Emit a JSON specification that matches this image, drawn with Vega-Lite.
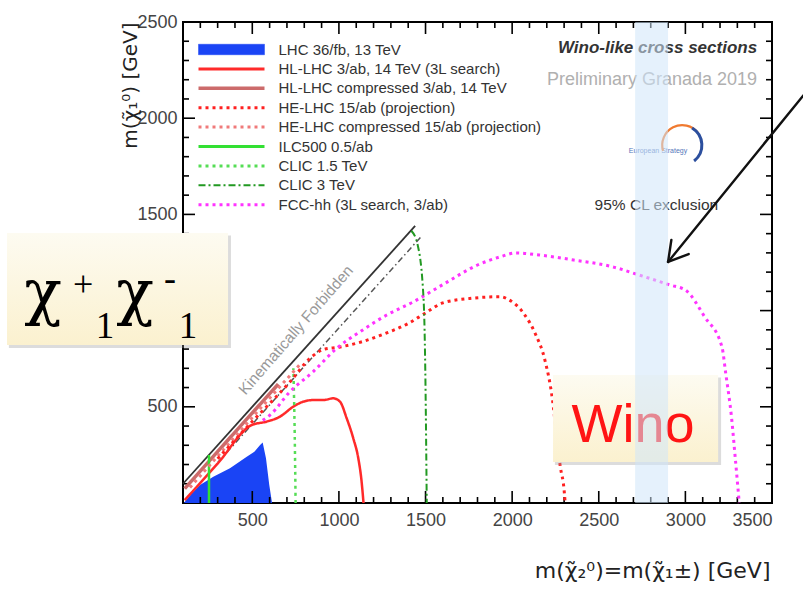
{
  "$schema": "https://vega.github.io/schema/vega-lite/v6.json",
  "width": 589,
  "height": 481,
  "autosize": {"type": "none"},
  "padding": {"left": 183, "top": 22, "right": 31, "bottom": 89},
  "background": "white",
  "config": {
    "view": {"stroke": "#000", "strokeWidth": 2},
    "font": "Liberation Sans",
    "axis": {
      "grid": false,
      "domain": false,
      "ticks": false,
      "labelFont": "Liberation Sans",
      "labelFontSize": 18,
      "labelColor": "#444",
      "labelOverlap": false,
      "titleFont": "DejaVu Sans",
      "titleFontWeight": "normal",
      "titleColor": "#222",
      "titleFontSize": 19
    }
  },
  "datasets": {
    "lhc36": [
      {"x": 105, "y": 0}, {"x": 150, "y": 50}, {"x": 198, "y": 94}, {"x": 275, "y": 137},
      {"x": 371, "y": 180}, {"x": 468, "y": 241}, {"x": 512, "y": 267}, {"x": 545, "y": 301},
      {"x": 560, "y": 315}, {"x": 579, "y": 232}, {"x": 598, "y": 94}, {"x": 614, "y": 0}
    ],
    "curves": [
      {"s": "HL-LHC 3/ab, 14 TeV (3L search)", "i": 0, "x": 110, "y": 15},
      {"s": "HL-LHC 3/ab, 14 TeV (3L search)", "i": 1, "x": 300, "y": 205},
      {"s": "HL-LHC 3/ab, 14 TeV (3L search)", "i": 2, "x": 496, "y": 405},
      {"s": "HL-LHC 3/ab, 14 TeV (3L search)", "i": 3, "x": 583, "y": 423},
      {"s": "HL-LHC 3/ab, 14 TeV (3L search)", "i": 4, "x": 660, "y": 449},
      {"s": "HL-LHC 3/ab, 14 TeV (3L search)", "i": 5, "x": 737, "y": 501},
      {"s": "HL-LHC 3/ab, 14 TeV (3L search)", "i": 6, "x": 795, "y": 527},
      {"s": "HL-LHC 3/ab, 14 TeV (3L search)", "i": 7, "x": 852, "y": 535},
      {"s": "HL-LHC 3/ab, 14 TeV (3L search)", "i": 8, "x": 910, "y": 535},
      {"s": "HL-LHC 3/ab, 14 TeV (3L search)", "i": 9, "x": 968, "y": 544},
      {"s": "HL-LHC 3/ab, 14 TeV (3L search)", "i": 10, "x": 1006, "y": 527},
      {"s": "HL-LHC 3/ab, 14 TeV (3L search)", "i": 11, "x": 1045, "y": 440},
      {"s": "HL-LHC 3/ab, 14 TeV (3L search)", "i": 12, "x": 1083, "y": 336},
      {"s": "HL-LHC 3/ab, 14 TeV (3L search)", "i": 13, "x": 1112, "y": 232},
      {"s": "HL-LHC 3/ab, 14 TeV (3L search)", "i": 14, "x": 1131, "y": 111},
      {"s": "HL-LHC 3/ab, 14 TeV (3L search)", "i": 15, "x": 1142, "y": 0},

      {"s": "HL-LHC compressed 3/ab, 14 TeV", "i": 0, "x": 110, "y": 75},
      {"s": "HL-LHC compressed 3/ab, 14 TeV", "i": 1, "x": 400, "y": 368},
      {"s": "HL-LHC compressed 3/ab, 14 TeV", "i": 2, "x": 650, "y": 618},

      {"s": "HE-LHC compressed 15/ab (projection)", "i": 0, "x": 140, "y": 80},
      {"s": "HE-LHC compressed 15/ab (projection)", "i": 1, "x": 500, "y": 445},
      {"s": "HE-LHC compressed 15/ab (projection)", "i": 2, "x": 780, "y": 725},

      {"s": "HE-LHC 15/ab (projection)", "i": 0, "x": 300, "y": 230},
      {"s": "HE-LHC 15/ab (projection)", "i": 1, "x": 496, "y": 420},
      {"s": "HE-LHC 15/ab (projection)", "i": 2, "x": 718, "y": 630},
      {"s": "HE-LHC 15/ab (projection)", "i": 3, "x": 833, "y": 752},
      {"s": "HE-LHC 15/ab (projection)", "i": 4, "x": 910, "y": 798},
      {"s": "HE-LHC 15/ab (projection)", "i": 5, "x": 1000, "y": 810},
      {"s": "HE-LHC 15/ab (projection)", "i": 6, "x": 1133, "y": 838},
      {"s": "HE-LHC 15/ab (projection)", "i": 7, "x": 1267, "y": 881},
      {"s": "HE-LHC 15/ab (projection)", "i": 8, "x": 1400, "y": 933},
      {"s": "HE-LHC 15/ab (projection)", "i": 9, "x": 1495, "y": 985},
      {"s": "HE-LHC 15/ab (projection)", "i": 10, "x": 1600, "y": 1040},
      {"s": "HE-LHC 15/ab (projection)", "i": 11, "x": 1755, "y": 1063},
      {"s": "HE-LHC 15/ab (projection)", "i": 12, "x": 1933, "y": 1072},
      {"s": "HE-LHC 15/ab (projection)", "i": 13, "x": 1978, "y": 1058},
      {"s": "HE-LHC 15/ab (projection)", "i": 14, "x": 2067, "y": 985},
      {"s": "HE-LHC 15/ab (projection)", "i": 15, "x": 2133, "y": 881},
      {"s": "HE-LHC 15/ab (projection)", "i": 16, "x": 2189, "y": 743},
      {"s": "HE-LHC 15/ab (projection)", "i": 17, "x": 2233, "y": 535},
      {"s": "HE-LHC 15/ab (projection)", "i": 18, "x": 2255, "y": 361},
      {"s": "HE-LHC 15/ab (projection)", "i": 19, "x": 2278, "y": 188},
      {"s": "HE-LHC 15/ab (projection)", "i": 20, "x": 2300, "y": 67},
      {"s": "HE-LHC 15/ab (projection)", "i": 21, "x": 2306, "y": 0},

      {"s": "ILC500 0.5/ab", "i": 0, "x": 250, "y": 0},
      {"s": "ILC500 0.5/ab", "i": 1, "x": 250, "y": 250},

      {"s": "CLIC 1.5 TeV", "i": 0, "x": 750, "y": 0},
      {"s": "CLIC 1.5 TeV", "i": 1, "x": 745, "y": 350},
      {"s": "CLIC 1.5 TeV", "i": 2, "x": 737, "y": 700},

      {"s": "CLIC 3 TeV", "i": 0, "x": 1418, "y": 1415},
      {"s": "CLIC 3 TeV", "i": 1, "x": 1455, "y": 1340},
      {"s": "CLIC 3 TeV", "i": 2, "x": 1489, "y": 1055},
      {"s": "CLIC 3 TeV", "i": 3, "x": 1500, "y": 600},
      {"s": "CLIC 3 TeV", "i": 4, "x": 1507, "y": 0},

      {"s": "FCC-hh (3L search, 3/ab)", "i": 0, "x": 560, "y": 430},
      {"s": "FCC-hh (3L search, 3/ab)", "i": 1, "x": 602, "y": 457},
      {"s": "FCC-hh (3L search, 3/ab)", "i": 2, "x": 718, "y": 579},
      {"s": "FCC-hh (3L search, 3/ab)", "i": 3, "x": 852, "y": 683},
      {"s": "FCC-hh (3L search, 3/ab)", "i": 4, "x": 987, "y": 804},
      {"s": "FCC-hh (3L search, 3/ab)", "i": 5, "x": 1122, "y": 890},
      {"s": "FCC-hh (3L search, 3/ab)", "i": 6, "x": 1276, "y": 977},
      {"s": "FCC-hh (3L search, 3/ab)", "i": 7, "x": 1430, "y": 1046},
      {"s": "FCC-hh (3L search, 3/ab)", "i": 8, "x": 1600, "y": 1135},
      {"s": "FCC-hh (3L search, 3/ab)", "i": 9, "x": 1800, "y": 1237},
      {"s": "FCC-hh (3L search, 3/ab)", "i": 10, "x": 1933, "y": 1280},
      {"s": "FCC-hh (3L search, 3/ab)", "i": 11, "x": 2022, "y": 1300},
      {"s": "FCC-hh (3L search, 3/ab)", "i": 12, "x": 2155, "y": 1289},
      {"s": "FCC-hh (3L search, 3/ab)", "i": 13, "x": 2355, "y": 1263},
      {"s": "FCC-hh (3L search, 3/ab)", "i": 14, "x": 2578, "y": 1228},
      {"s": "FCC-hh (3L search, 3/ab)", "i": 15, "x": 2733, "y": 1185},
      {"s": "FCC-hh (3L search, 3/ab)", "i": 16, "x": 2911, "y": 1133},
      {"s": "FCC-hh (3L search, 3/ab)", "i": 17, "x": 3000, "y": 1107},
      {"s": "FCC-hh (3L search, 3/ab)", "i": 18, "x": 3111, "y": 968},
      {"s": "FCC-hh (3L search, 3/ab)", "i": 19, "x": 3211, "y": 812},
      {"s": "FCC-hh (3L search, 3/ab)", "i": 20, "x": 3233, "y": 673},
      {"s": "FCC-hh (3L search, 3/ab)", "i": 21, "x": 3266, "y": 448},
      {"s": "FCC-hh (3L search, 3/ab)", "i": 22, "x": 3289, "y": 223},
      {"s": "FCC-hh (3L search, 3/ab)", "i": 23, "x": 3311, "y": 0}
    ],
    "kinematic": [{"x": 100, "y": 100}, {"x": 1440, "y": 1440}],
    "offdiag": [{"x": 300, "y": 210}, {"x": 1480, "y": 1390}],
    "xMajor": [{"v": 500}, {"v": 1000}, {"v": 1500}, {"v": 2000}, {"v": 2500}, {"v": 3000}],
    "xMinor": [
      {"v": 200}, {"v": 300}, {"v": 400}, {"v": 600}, {"v": 700}, {"v": 800}, {"v": 900},
      {"v": 1100}, {"v": 1200}, {"v": 1300}, {"v": 1400}, {"v": 1600}, {"v": 1700}, {"v": 1800}, {"v": 1900},
      {"v": 2100}, {"v": 2200}, {"v": 2300}, {"v": 2400}, {"v": 2600}, {"v": 2700}, {"v": 2800}, {"v": 2900},
      {"v": 3100}, {"v": 3200}, {"v": 3300}, {"v": 3400}
    ],
    "yMajor": [{"v": 500}, {"v": 1000}, {"v": 1500}, {"v": 2000}],
    "yMinor": [
      {"v": 100}, {"v": 200}, {"v": 300}, {"v": 400}, {"v": 600}, {"v": 700}, {"v": 800}, {"v": 900},
      {"v": 1100}, {"v": 1200}, {"v": 1300}, {"v": 1400}, {"v": 1600}, {"v": 1700}, {"v": 1800}, {"v": 1900},
      {"v": 2100}, {"v": 2200}, {"v": 2300}, {"v": 2400}
    ],
    "boxes": [
      {"name": "pair", "x": -916, "x2": 360, "y": 821, "y2": 1403},
      {"name": "wino", "x": 2236, "x2": 3189, "y": 213, "y2": 665}
    ],
    "shadows": [
      {"name": "pair", "x": -905, "x2": 377, "y": 805, "y2": 1390},
      {"name": "wino", "x": 2247, "x2": 3206, "y": 197, "y2": 652}
    ],
    "band": [{"x": 2710, "x2": 2900, "y": 0, "y2": 2500}],
    "arrow": [
      {"x": 3720, "y": 2162, "x2": 2900, "y2": 1253},
      {"x": 2900, "y": 1253, "x2": 3019, "y2": 1294},
      {"x": 2900, "y": 1253, "x2": 2919, "y2": 1367}
    ]
  },
  "layer": [
    {
      "data": {"name": "lhc36"},
      "mark": {"type": "area", "color": "#1a44f5", "interpolate": "linear"},
      "encoding": {
        "x": {
          "field": "x", "type": "quantitative",
          "scale": {"domain": [100, 3500], "nice": false, "zero": false},
          "axis": {
            "orient": "bottom",
            "values": [500, 1000, 1500, 2000, 2500, 3000, 3500],
            "format": "d",
            "labelPadding": 8,
            "title": "m(χ̃₂⁰)=m(χ̃₁±) [GeV]",
            "titleFontSize": 22,
            "titleAnchor": "end",
            "titleAlign": "right",
            "titleBaseline": "middle",
            "titleX": 587,
            "titleY": 67
          }
        },
        "y": {
          "field": "y", "type": "quantitative",
          "scale": {"domain": [0, 2500], "nice": false, "zero": false},
          "axis": {
            "orient": "left",
            "values": [0, 500, 1000, 1500, 2000, 2500],
            "format": "d",
            "labelExpr": "datum.value === 0 || datum.value === 1000 ? '' : datum.label",
            "labelPadding": 6,
            "title": "m(χ̃₁⁰) [GeV]",
            "titleFontSize": 20,
            "titleAnchor": "end",
            "titleAngle": 270,
            "titleAlign": "right",
            "titleBaseline": "middle",
            "titleX": -53,
            "titleY": 0
          }
        }
      }
    },
    {
      "data": {"name": "xMajor"},
      "mark": {"type": "tick", "orient": "vertical", "size": 12, "thickness": 1.6, "color": "#000", "opacity": 1, "yOffset": -6},
      "encoding": {"x": {"field": "v", "type": "quantitative", "axis": null}, "y": {"datum": 0, "type": "quantitative", "axis": null}}
    },
    {
      "data": {"name": "xMajor"},
      "mark": {"type": "tick", "orient": "vertical", "size": 12, "thickness": 1.6, "color": "#000", "opacity": 1, "yOffset": 6},
      "encoding": {"x": {"field": "v", "type": "quantitative", "axis": null}, "y": {"datum": 2500, "type": "quantitative", "axis": null}}
    },
    {
      "data": {"name": "xMinor"},
      "mark": {"type": "tick", "orient": "vertical", "size": 6, "thickness": 1.6, "color": "#000", "opacity": 1, "yOffset": -3},
      "encoding": {"x": {"field": "v", "type": "quantitative", "axis": null}, "y": {"datum": 0, "type": "quantitative", "axis": null}}
    },
    {
      "data": {"name": "xMinor"},
      "mark": {"type": "tick", "orient": "vertical", "size": 6, "thickness": 1.6, "color": "#000", "opacity": 1, "yOffset": 3},
      "encoding": {"x": {"field": "v", "type": "quantitative", "axis": null}, "y": {"datum": 2500, "type": "quantitative", "axis": null}}
    },
    {
      "data": {"name": "yMajor"},
      "mark": {"type": "tick", "orient": "horizontal", "size": 12, "thickness": 1.6, "color": "#000", "opacity": 1, "xOffset": 6},
      "encoding": {"y": {"field": "v", "type": "quantitative", "axis": null}, "x": {"datum": 100, "type": "quantitative", "axis": null}}
    },
    {
      "data": {"name": "yMajor"},
      "mark": {"type": "tick", "orient": "horizontal", "size": 12, "thickness": 1.6, "color": "#000", "opacity": 1, "xOffset": -6},
      "encoding": {"y": {"field": "v", "type": "quantitative", "axis": null}, "x": {"datum": 3500, "type": "quantitative", "axis": null}}
    },
    {
      "data": {"name": "yMinor"},
      "mark": {"type": "tick", "orient": "horizontal", "size": 6, "thickness": 1.6, "color": "#000", "opacity": 1, "xOffset": 3},
      "encoding": {"y": {"field": "v", "type": "quantitative", "axis": null}, "x": {"datum": 100, "type": "quantitative", "axis": null}}
    },
    {
      "data": {"name": "yMinor"},
      "mark": {"type": "tick", "orient": "horizontal", "size": 6, "thickness": 1.6, "color": "#000", "opacity": 1, "xOffset": -3},
      "encoding": {"y": {"field": "v", "type": "quantitative", "axis": null}, "x": {"datum": 3500, "type": "quantitative", "axis": null}}
    },
    {
      "data": {"name": "offdiag"},
      "mark": {"type": "line", "color": "#555", "strokeWidth": 1.5, "strokeDash": [6, 3, 1.5, 3]},
      "encoding": {
        "x": {"field": "x", "type": "quantitative", "axis": null},
        "y": {"field": "y", "type": "quantitative", "axis": null}
      }
    },
    {
      "data": {"name": "kinematic"},
      "mark": {"type": "line", "color": "#333", "strokeWidth": 1.8},
      "encoding": {
        "x": {"field": "x", "type": "quantitative", "axis": null},
        "y": {"field": "y", "type": "quantitative", "axis": null}
      }
    },
    {
      "data": {"name": "curves"},
      "transform": [{"filter": {"field": "s", "oneOf": ["HL-LHC compressed 3/ab, 14 TeV"]}}],
      "mark": {"type": "line", "interpolate": "monotone", "strokeWidth": 3.5},
      "encoding": {
        "x": {"field": "x", "type": "quantitative", "axis": null},
        "y": {"field": "y", "type": "quantitative", "axis": null},
        "order": {"field": "i", "type": "quantitative"},
        "color": {
          "field": "s", "type": "nominal",
          "scale": {
            "domain": ["LHC 36/fb, 13 TeV", "HL-LHC 3/ab, 14 TeV (3L search)", "HL-LHC compressed 3/ab, 14 TeV", "HE-LHC 15/ab (projection)", "HE-LHC compressed 15/ab (projection)", "ILC500 0.5/ab", "CLIC 1.5 TeV", "CLIC 3 TeV", "FCC-hh (3L search, 3/ab)"],
            "range": ["#1a44f5", "#ff2a2a", "#cc6b6b", "#ff2020", "#f07a7a", "#33e033", "#55dd55", "#229922", "#ff33ff"]
          },
          "legend": {
            "orient": "none",
            "legendX": 41,
            "legendY": 20,
            "title": null,
            "symbolType": "M-6,0H6",
            "symbolSize": 121,
            "symbolStrokeWidth": 3,
            "labelFont": "Liberation Sans",
            "labelFontSize": 15,
            "labelColor": "#333",
            "labelOffset": 39.5,
            "labelLimit": 400,
            "rowPadding": 3.4,
            "encode": {
              "symbols": {
                "update": {
                  "shape": {"signal": "datum.value === 'LHC 36/fb, 13 TeV' ? 'M-6,-0.95H6V0.95H-6Z' : 'M-6,0H6'"},
                  "fill": {"signal": "datum.value === 'LHC 36/fb, 13 TeV' ? '#1a44f5' : 'transparent'"},
                  "strokeWidth": {"signal": "datum.value === 'LHC 36/fb, 13 TeV' ? 0.5 : datum.value === 'HL-LHC compressed 3/ab, 14 TeV' ? 3.5 : datum.value === 'CLIC 3 TeV' ? 2 : 3"}
                }
              }
            }
          }
        },
        "strokeDash": {
          "field": "s", "type": "nominal",
          "scale": {
            "domain": ["LHC 36/fb, 13 TeV", "HL-LHC 3/ab, 14 TeV (3L search)", "HL-LHC compressed 3/ab, 14 TeV", "HE-LHC 15/ab (projection)", "HE-LHC compressed 15/ab (projection)", "ILC500 0.5/ab", "CLIC 1.5 TeV", "CLIC 3 TeV", "FCC-hh (3L search, 3/ab)"],
            "range": [[1, 0], [1, 0], [1, 0], [3, 4], [3, 4], [1, 0], [3, 4], [7, 3, 2, 3], [3, 4]]
          }
        }
      }
    },
    {
      "data": {"name": "curves"},
      "transform": [{"filter": {"field": "s", "oneOf": ["HL-LHC 3/ab, 14 TeV (3L search)", "ILC500 0.5/ab", "CLIC 1.5 TeV"]}}],
      "mark": {"type": "line", "interpolate": "monotone", "strokeWidth": 2.5},
      "encoding": {
        "x": {"field": "x", "type": "quantitative", "axis": null},
        "y": {"field": "y", "type": "quantitative", "axis": null},
        "order": {"field": "i", "type": "quantitative"},
        "color": {"field": "s", "type": "nominal"},
        "strokeDash": {"field": "s", "type": "nominal"}
      }
    },
    {
      "data": {"name": "curves"},
      "transform": [{"filter": {"field": "s", "oneOf": ["HE-LHC 15/ab (projection)", "HE-LHC compressed 15/ab (projection)", "FCC-hh (3L search, 3/ab)"]}}],
      "mark": {"type": "line", "interpolate": "monotone", "strokeWidth": 3},
      "encoding": {
        "x": {"field": "x", "type": "quantitative", "axis": null},
        "y": {"field": "y", "type": "quantitative", "axis": null},
        "order": {"field": "i", "type": "quantitative"},
        "color": {"field": "s", "type": "nominal"},
        "strokeDash": {"field": "s", "type": "nominal"}
      }
    },
    {
      "data": {"name": "curves"},
      "transform": [{"filter": {"field": "s", "oneOf": ["CLIC 3 TeV"]}}],
      "mark": {"type": "line", "interpolate": "monotone", "strokeWidth": 2},
      "encoding": {
        "x": {"field": "x", "type": "quantitative", "axis": null},
        "y": {"field": "y", "type": "quantitative", "axis": null},
        "order": {"field": "i", "type": "quantitative"},
        "color": {"field": "s", "type": "nominal"},
        "strokeDash": {"field": "s", "type": "nominal"}
      }
    },
    {
      "data": {"values": [{"t": "Kinematically Forbidden", "x": 752, "y": 899}]},
      "mark": {"type": "text", "angle": -49, "fontSize": 15.5, "color": "#999", "font": "Liberation Sans"},
      "encoding": {
        "x": {"field": "x", "type": "quantitative", "axis": null},
        "y": {"field": "y", "type": "quantitative", "axis": null},
        "text": {"field": "t"}
      }
    },
    {
      "data": {"values": [{"t": "Wino-like cross sections", "x": 3414, "y": 2365}]},
      "mark": {"type": "text", "align": "right", "fontSize": 17, "fontStyle": "italic", "fontWeight": "bold", "color": "#333", "font": "Liberation Sans"},
      "encoding": {
        "x": {"field": "x", "type": "quantitative", "axis": null},
        "y": {"field": "y", "type": "quantitative", "axis": null},
        "text": {"field": "t"}
      }
    },
    {
      "data": {"values": [{"t": "Preliminary Granada 2019", "x": 3414, "y": 2199}]},
      "mark": {"type": "text", "align": "right", "fontSize": 18, "color": "#b0b0b0", "font": "Liberation Sans"},
      "encoding": {
        "x": {"field": "x", "type": "quantitative", "axis": null},
        "y": {"field": "y", "type": "quantitative", "axis": null},
        "text": {"field": "t"}
      }
    },
    {
      "data": {"values": [{"t": "95% CL exclusion", "x": 3189, "y": 1549}]},
      "mark": {"type": "text", "align": "right", "fontSize": 15.5, "color": "#333", "font": "Liberation Sans"},
      "encoding": {
        "x": {"field": "x", "type": "quantitative", "axis": null},
        "y": {"field": "y", "type": "quantitative", "axis": null},
        "text": {"field": "t"}
      }
    },
    {
      "data": {"values": [{"t": "European Strategy", "x": 2842, "y": 1830}]},
      "mark": {"type": "text", "fontSize": 7, "color": "#5577bb", "font": "Liberation Sans"},
      "encoding": {
        "x": {"field": "x", "type": "quantitative", "axis": null},
        "y": {"field": "y", "type": "quantitative", "axis": null},
        "text": {"field": "t"}
      }
    },
    {
      "data": {"values": [{"x": 2981, "y": 1861}]},
      "mark": {"type": "point", "shape": "M-0.95,0.3A1,1,0,0,1,0.8,-0.6", "size": 1600, "filled": false, "stroke": "#f07a30", "strokeWidth": 2.2, "opacity": 1},
      "encoding": {
        "x": {"field": "x", "type": "quantitative", "axis": null},
        "y": {"field": "y", "type": "quantitative", "axis": null}
      }
    },
    {
      "data": {"values": [{"x": 2981, "y": 1861}]},
      "mark": {"type": "point", "shape": "M0.5,-0.85A1,1,0,0,1,0.6,0.8", "size": 1600, "filled": false, "stroke": "#2c4f9e", "strokeWidth": 3, "opacity": 1},
      "encoding": {
        "x": {"field": "x", "type": "quantitative", "axis": null},
        "y": {"field": "y", "type": "quantitative", "axis": null}
      }
    },
    {
      "data": {"name": "shadows"},
      "mark": {"type": "rect", "color": "#9a9a9a", "opacity": 0.35},
      "encoding": {
        "x": {"field": "x", "type": "quantitative", "axis": null},
        "x2": {"field": "x2"},
        "y": {"field": "y", "type": "quantitative", "axis": null},
        "y2": {"field": "y2"}
      }
    },
    {
      "data": {"name": "boxes"},
      "mark": {
        "type": "rect",
        "fill": {"gradient": "linear", "x1": 0, "y1": 0, "x2": 0, "y2": 1, "stops": [{"offset": 0, "color": "#fdfbf1"}, {"offset": 1, "color": "#fbf1cf"}]}
      },
      "encoding": {
        "x": {"field": "x", "type": "quantitative", "axis": null},
        "x2": {"field": "x2"},
        "y": {"field": "y", "type": "quantitative", "axis": null},
        "y2": {"field": "y2"}
      }
    },
    {
      "data": {"values": [{"t": "χ", "x": -708, "y": 988}, {"t": "χ", "x": -177, "y": 988}]},
      "mark": {"type": "text", "baseline": "alphabetic", "fontSize": 62, "color": "#000", "font": "DejaVu Serif"},
      "encoding": {
        "x": {"field": "x", "type": "quantitative", "axis": null},
        "y": {"field": "y", "type": "quantitative", "axis": null},
        "text": {"field": "t"}
      }
    },
    {
      "data": {"values": [{"t": "+", "x": -477, "y": 1078}, {"t": "-", "x": 25, "y": 1107}]},
      "mark": {"type": "text", "baseline": "alphabetic", "fontSize": 36, "color": "#000", "font": "Liberation Serif"},
      "encoding": {
        "x": {"field": "x", "type": "quantitative", "axis": null},
        "y": {"field": "y", "type": "quantitative", "axis": null},
        "text": {"field": "t"}
      }
    },
    {
      "data": {"values": [{"t": "1", "x": -350, "y": 858}, {"t": "1", "x": 129, "y": 858}]},
      "mark": {"type": "text", "baseline": "alphabetic", "fontSize": 37, "color": "#000", "font": "Liberation Serif"},
      "encoding": {
        "x": {"field": "x", "type": "quantitative", "axis": null},
        "y": {"field": "y", "type": "quantitative", "axis": null},
        "text": {"field": "t"}
      }
    },
    {
      "data": {"values": [{"t": "Wino", "x": 2698, "y": 317}]},
      "mark": {"type": "text", "baseline": "alphabetic", "fontSize": 54, "color": "#ff1414", "font": "Liberation Sans"},
      "encoding": {
        "x": {"field": "x", "type": "quantitative", "axis": null},
        "y": {"field": "y", "type": "quantitative", "axis": null},
        "text": {"field": "t"}
      }
    },
    {
      "data": {"name": "band"},
      "mark": {"type": "rect", "color": "#cfe6f9", "opacity": 0.55},
      "encoding": {
        "x": {"field": "x", "type": "quantitative", "axis": null},
        "x2": {"field": "x2"},
        "y": {"field": "y", "type": "quantitative", "axis": null},
        "y2": {"field": "y2"}
      }
    },
    {
      "data": {"name": "arrow"},
      "mark": {"type": "rule", "color": "#111", "strokeWidth": 2.4, "strokeCap": "round"},
      "encoding": {
        "x": {"field": "x", "type": "quantitative", "axis": null},
        "x2": {"field": "x2"},
        "y": {"field": "y", "type": "quantitative", "axis": null},
        "y2": {"field": "y2"}
      }
    }
  ],
  "resolve": {"axis": {"x": "independent", "y": "independent"}}
}
